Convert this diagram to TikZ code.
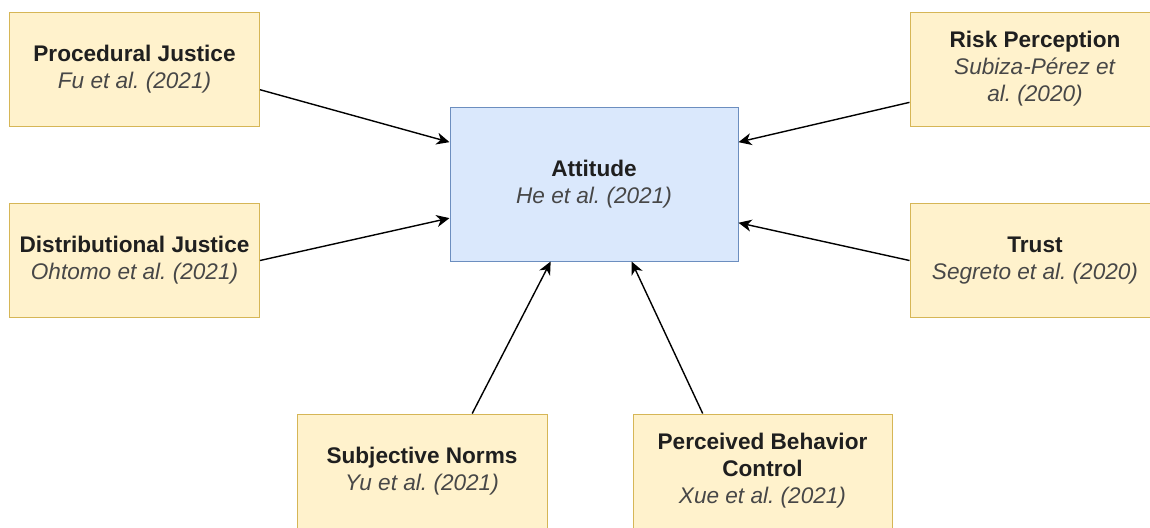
\documentclass[tikz,border=0pt]{standalone}
\usepackage{fontspec}
\setmainfont{Liberation Sans}
\usetikzlibrary{positioning, arrows.meta, calc}

\definecolor{factorfill}{HTML}{FFF2CC}
\definecolor{factordraw}{HTML}{D6B656}
\definecolor{corefill}{HTML}{DAE8FC}
\definecolor{coredraw}{HTML}{6C8EBF}
\definecolor{citegray}{HTML}{474747}

\newcommand{\refcite}[1]{\textcolor{citegray}{\textit{#1}}}
\frenchspacing

\begin{document}
\begin{tikzpicture}[
    x=0.5pt, y=-0.5pt,
    factor/.style={
        rectangle,
        draw=factordraw,
        fill=factorfill,
        line width=0.5pt,
        minimum width=125pt,
        minimum height=57pt,
        align=center,
        text=black!88,
        font=\fontsize{11.3}{13.5}\selectfont
    },
    core/.style={
        factor,
        draw=coredraw,
        fill=corefill,
        minimum width=144pt,
        minimum height=77pt
    },
    arrow/.style={-{Stealth[length=6.5pt, width=6pt, inset=2pt]}, line width=0.7pt}
]
\useasboundingbox (0,0) rectangle (1150,527);
\clip (0,0) rectangle (1150,527);

% Centre
\node[core] (att) at (594, 184)
    {\textbf{Attitude}\\\refcite{He et al. (2021)}};

% Left side
\node[factor] (proc) at (134.5, 69)
    {\textbf{Procedural Justice}\\\refcite{Fu et al. (2021)}};
\node[factor] (dist) at (134.5, 260.5)
    {\textbf{Distributional Justice}\\\refcite{Ohtomo et al. (2021)}};

% Right side
\node[factor] (risk) at (1035, 69)
    {\textbf{Risk Perception}\\\refcite{Subiza-Pérez et}\\\refcite{al. (2020)}};
\node[factor] (trust) at (1035, 260.5)
    {\textbf{Trust}\\\refcite{Segreto et al. (2020)}};

% Bottom
\node[factor] (subj) at (422, 471)
    {\textbf{Subjective Norms}\\\refcite{Yu et al. (2021)}};
\node[factor, minimum width=129.5pt] (pbc) at (762.5, 471)
    {\textbf{Perceived Behavior}\\\textbf{Control}\\\refcite{Xue et al. (2021)}};

% Arrows into Attitude
\draw[arrow] ($(proc.north east)!0.68!(proc.south east)$) -- ($(att.north west)!0.23!(att.south west)$);
\draw[arrow] (dist.east) -- ($(att.north west)!0.72!(att.south west)$);
\draw[arrow] ($(risk.north west)!0.79!(risk.south west)$) -- ($(att.north east)!0.23!(att.south east)$);
\draw[arrow] (trust.west) -- ($(att.north east)!0.75!(att.south east)$);
\draw[arrow] ($(subj.north west)!0.70!(subj.north east)$) -- ($(att.south west)!0.35!(att.south east)$);
\draw[arrow] ($(pbc.north west)!0.27!(pbc.north east)$) -- ($(att.south west)!0.63!(att.south east)$);

\end{tikzpicture}
\end{document}
